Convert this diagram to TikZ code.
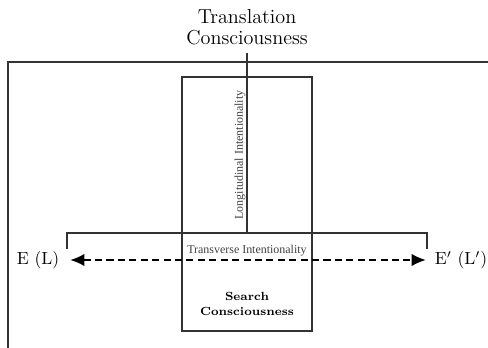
\documentclass[tikz,border=0pt]{standalone}
\usepackage{fontspec}
\usepackage{tikz}
\usetikzlibrary{arrows.meta, positioning, calc}
\newfontfamily\labelfont{Liberation Serif}

\begin{document}
\begin{tikzpicture}[x=0.02cm, y=0.02cm,
  framebox/.style={draw=black!80, line width=0.9pt, minimum width=2.6cm, minimum height=5.08cm, inner sep=0pt},
  side/.style={font=\fontsize{10}{11}\selectfont, inner sep=1pt},
  smalltext/.style={font=\labelfont\fontsize{6.8}{7.5}\selectfont, text=black!75, inner sep=1pt},
  rule/.style={draw=black!80, line width=0.9pt}]
\useasboundingbox (0,0) rectangle (488,348);

% outer frame
\draw[rule] (8,0) -- (8,286) -- (488,286);

\node[font=\fontsize{11.5}{12}\selectfont, align=center, inner sep=1pt] (title) at (247,321) {Translation\\Consciousness};
\node[framebox] (search) at (247,144) {};
\node[font=\bfseries\fontsize{6.7}{8.5}\selectfont, align=center] (sc) at (247,44) {Search\\Consciousness};

\coordinate (mid) at (247,115);
\coordinate (lft) at (67,115);
\coordinate (rgt) at (427,115);
\draw[rule] (247,295) -- (mid);
\draw[rule] ($(lft)+(0,-16)$) -- (lft) -- (rgt) -- ($(rgt)+(0,-16)$);

\node[smalltext, rotate=90] (longi) at (240,193) {Longitudinal Intentionality};
\node[smalltext] (trans) at (247,97) {Transverse Intentionality};

\node[side] (el) at (38,88) {E (L)};
\node[side] (er) at (461,88) {E$'$ (L$'$)};
\draw[dash pattern=on 4pt off 2.5pt, line width=0.8pt, shorten <=9pt*0.567, shorten >=7pt*0.567,
  {Latex[length=8pt,width=7pt]}-{Latex[length=8pt,width=7pt]}] (el) -- (er);
\end{tikzpicture}
\end{document}
